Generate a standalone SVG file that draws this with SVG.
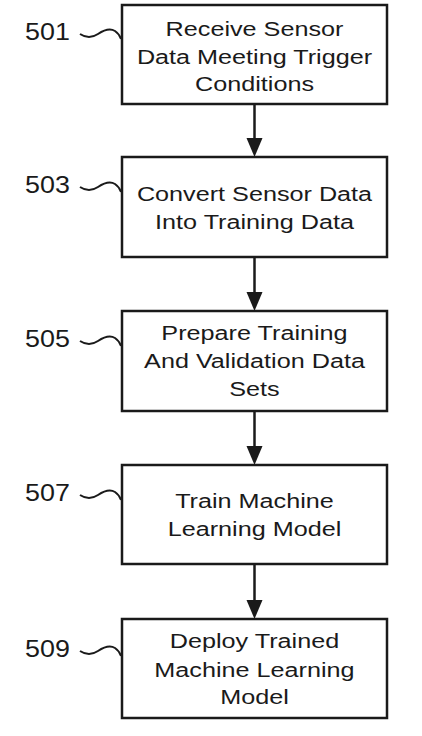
<svg xmlns="http://www.w3.org/2000/svg" width="422" height="736" viewBox="0 0 422 736">
<style>
.box{fill:#fff;stroke:#1a1a1a;stroke-width:2.5}
.t{font-family:"Liberation Sans",Arial,sans-serif;font-size:21px;fill:#1a1a1a;text-anchor:middle}
.lbl{font-family:"Liberation Sans",Arial,sans-serif;font-size:24px;fill:#1a1a1a}
.sq{fill:none;stroke:#1a1a1a;stroke-width:2}
.con{stroke:#1a1a1a;stroke-width:2.5;fill:none}
.head{fill:#1a1a1a}
</style>
<defs>
<path id="squig" d="M0,0 C6,4 12,4 18,0 C24,-4 30,-6 35,-3 C38,-1 40,2 41,5"/>
</defs>
<rect width="422" height="736" fill="#fff"/>
<g id="n501">
<rect class="box" x="122" y="5" width="265" height="99"/>
<text class="t" transform="translate(254.5,36) scale(1.2,1)">Receive Sensor</text>
<text class="t" transform="translate(254.5,64) scale(1.2,1)">Data Meeting Trigger</text>
<text class="t" transform="translate(254.5,91) scale(1.2,1)">Conditions</text>
<text class="lbl" transform="translate(25,40) scale(1.12,1)">501</text>
<use href="#squig" class="sq" x="80" y="34"/>
</g>
<g id="n503">
<rect class="box" x="122" y="157" width="265" height="100"/>
<text class="t" transform="translate(254.5,201) scale(1.2,1)">Convert Sensor Data</text>
<text class="t" transform="translate(254.5,229) scale(1.2,1)">Into Training Data</text>
<text class="lbl" transform="translate(25,193) scale(1.12,1)">503</text>
<use href="#squig" class="sq" x="80" y="187"/>
</g>
<g id="n505">
<rect class="box" x="122" y="311" width="265" height="100"/>
<text class="t" transform="translate(254.5,340) scale(1.2,1)">Prepare Training</text>
<text class="t" transform="translate(254.5,368) scale(1.2,1)">And Validation Data</text>
<text class="t" transform="translate(254.5,396) scale(1.2,1)">Sets</text>
<text class="lbl" transform="translate(25,347) scale(1.12,1)">505</text>
<use href="#squig" class="sq" x="80" y="341"/>
</g>
<g id="n507">
<rect class="box" x="122" y="465" width="265" height="99"/>
<text class="t" transform="translate(254.5,508) scale(1.2,1)">Train Machine</text>
<text class="t" transform="translate(254.5,536) scale(1.2,1)">Learning Model</text>
<text class="lbl" transform="translate(25,501) scale(1.12,1)">507</text>
<use href="#squig" class="sq" x="80" y="495"/>
</g>
<g id="n509">
<rect class="box" x="122" y="619" width="265" height="99"/>
<text class="t" transform="translate(254.5,648) scale(1.2,1)">Deploy Trained</text>
<text class="t" transform="translate(254.5,677) scale(1.2,1)">Machine Learning</text>
<text class="t" transform="translate(254.5,704) scale(1.2,1)">Model</text>
<text class="lbl" transform="translate(25,657) scale(1.12,1)">509</text>
<use href="#squig" class="sq" x="80" y="651"/>
</g>
<g id="connectors">
<line class="con" x1="254.5" y1="104" x2="254.5" y2="140"/>
<polygon class="head" points="246.5,138 262.5,138 254.5,157"/>
<line class="con" x1="254.5" y1="257" x2="254.5" y2="294"/>
<polygon class="head" points="246.5,292 262.5,292 254.5,311"/>
<line class="con" x1="254.5" y1="411" x2="254.5" y2="448"/>
<polygon class="head" points="246.5,446 262.5,446 254.5,465"/>
<line class="con" x1="254.5" y1="564" x2="254.5" y2="602"/>
<polygon class="head" points="246.5,600 262.5,600 254.5,619"/>
</g>
</svg>
